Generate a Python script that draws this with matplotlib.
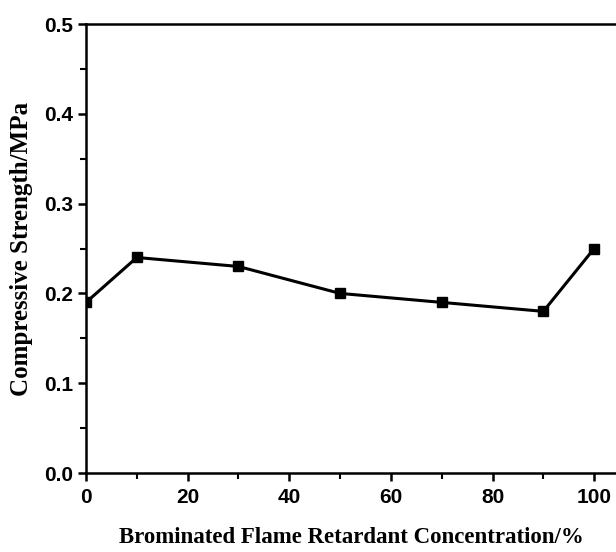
import matplotlib
matplotlib.use("Agg")
import matplotlib.pyplot as plt
from matplotlib.ticker import MultipleLocator

# data
concentration = [0, 10, 30, 50, 70, 90, 100]
strength = [0.19, 0.24, 0.23, 0.20, 0.19, 0.18, 0.25]

fig = plt.figure(figsize=(6.16, 5.52), dpi=100)
ax = fig.add_axes([0.1396, 0.1431, 0.8604, 0.8134])

ax.plot(concentration, strength, color='black', linewidth=2.2,
        marker='s', markersize=7, clip_on=True)

ax.set_xlim(0, 104.3)
ax.set_ylim(0, 0.5)
ax.xaxis.set_major_locator(MultipleLocator(20))
ax.xaxis.set_minor_locator(MultipleLocator(10))
ax.yaxis.set_major_locator(MultipleLocator(0.1))
ax.yaxis.set_minor_locator(MultipleLocator(0.05))
ax.yaxis.set_major_formatter(plt.FormatStrFormatter('%.1f'))

ax.spines['right'].set_visible(False)
for s in ['left', 'bottom', 'top']:
    ax.spines[s].set_linewidth(1.8)

ax.tick_params(which='major', direction='out', length=6, width=1.8,
               top=False, right=False)
ax.tick_params(which='minor', direction='out', length=4, width=1.5,
               top=False, right=False)

tick_font = ['Liberation Sans Narrow', 'Liberation Sans', 'DejaVu Sans']
for lab in ax.get_xticklabels() + ax.get_yticklabels():
    lab.set_fontfamily(tick_font)
    lab.set_fontweight('bold')
    lab.set_fontsize(15)
ax.tick_params(axis='x', pad=5)
ax.tick_params(axis='y', pad=3)

ax.set_xlabel('Brominated Flame Retardant Concentration/%', fontsize=16.5,
              fontweight='bold', family='Liberation Serif', labelpad=14)
ax.set_ylabel('Compressive Strength/MPa', fontsize=18,
              fontweight='bold', family='Liberation Serif', labelpad=8)

fig.savefig('out.png', dpi=100)
